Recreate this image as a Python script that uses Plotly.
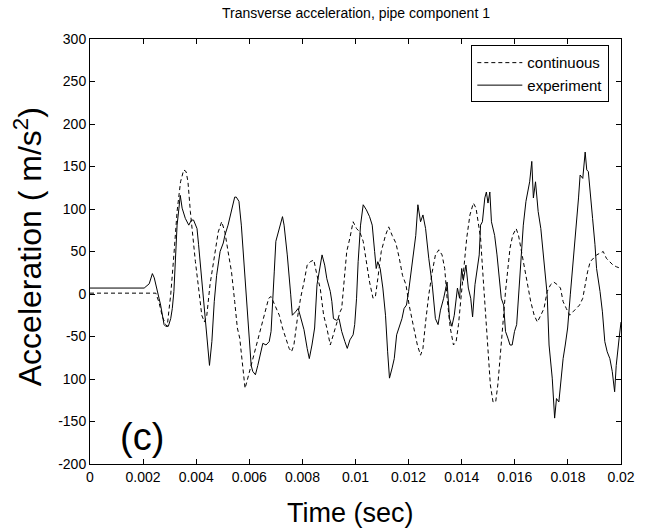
import plotly.graph_objects as go

# ---- data (time in ms, acceleration in m/s^2) ----
t_exp_ms = [0, 2.04, 2.23, 2.35, 2.42, 2.48, 2.54, 2.6, 2.66, 2.73, 2.79, 2.85, 2.95, 3.04, 3.1, 3.16, 3.22, 3.28, 3.35, 3.4,
            3.47, 3.59, 3.72, 3.82, 3.9, 4.03, 4.09, 4.21, 4.34, 4.44, 4.5, 4.59, 4.68, 4.77, 4.9, 5.02, 5.08, 5.2, 5.33, 5.45,
            5.51, 5.61, 5.7, 5.82, 5.95, 6.07, 6.13, 6.23, 6.32, 6.44, 6.51, 6.63, 6.75, 6.82, 6.88, 6.94, 7.0, 7.13, 7.25, 7.31,
            7.43, 7.56, 7.62, 7.74, 7.84, 7.93, 8.06, 8.18, 8.26, 8.36, 8.46, 8.55, 8.64, 8.74, 8.84, 8.92, 9.05, 9.11, 9.17, 9.29,
            9.38, 9.48, 9.6, 9.69, 9.79, 9.91, 9.97, 10.04, 10.1, 10.19, 10.29, 10.41, 10.53, 10.63, 10.72, 10.78, 10.84, 10.93,
            11.03, 11.13, 11.21, 11.28, 11.38, 11.46, 11.55, 11.65, 11.75, 11.83, 11.92, 12.0, 12.08, 12.17, 12.27, 12.35, 12.45,
            12.54, 12.64, 12.76, 12.89, 13.01, 13.11, 13.2, 13.32, 13.45, 13.54, 13.63, 13.72, 13.84, 13.92, 14.0, 14.06, 14.16,
            14.25, 14.34, 14.41, 14.5, 14.59, 14.66, 14.71, 14.78, 14.87, 14.93, 14.99, 15.06, 15.12, 15.24, 15.33, 15.4, 15.49,
            15.58, 15.65, 15.74, 15.82, 15.9, 15.99, 16.07, 16.14, 16.23, 16.32, 16.42, 16.52, 16.56, 16.64, 16.7, 16.78, 16.88,
            16.98, 17.07, 17.16, 17.22, 17.29, 17.41, 17.5, 17.57, 17.66, 17.74, 17.82, 17.9, 17.99, 18.09, 18.19, 18.28, 18.34,
            18.4, 18.46, 18.56, 18.65, 18.71, 18.77, 18.84, 18.93, 19.02, 19.08, 19.21, 19.3, 19.39, 19.48, 19.58, 19.67, 19.76,
            19.82, 19.93, 20.0]
a_exp = [7, 7, 12, 24, 19, 12, 3, -5, -13, -25, -36, -38, -38, -29, -17, 3, 42, 81, 101, 116,
         101, 89, 81, 87, 87, 77, 58, 18, -29, -60, -84, -56, -9, 22, 50, 60, 69, 81, 97, 114,
         114, 109, 81, 30, -21, -84, -91, -95, -84, -68, -58, -60, -56, -44, -1, 26, 62, 77, 91, 81,
         46, -1, -25, -21, -17, -27, -42, -64, -76, -60, -40, 11, 30, 46, 34, 18, 3, -9, -29, -31,
         -29, -44, -56, -64, -54, -48, -36, -5, 38, 81, 105, 99, 91, 81, 50, 30, 38, 30,
         7, -25, -68, -99, -87, -76, -48, -38, -29, -17, -13, 3, 22, 50, 69, 105, 85,
         93, 77, 42, 11, -29, -36, -19, -5, 14, -29, -38, -25, 7, -5, 30, 16, 34,
         7, -5, -27, 11, 30, 46, 81, 85, 113, 120, 107, 120, 85, 69, 46, 26, -5,
         -13, -44, -52, -60, -60, -44, -36, -5, 42, 81, 109, 128, 132, 156, 113, 132, 97,
         77, 46, 18, -1, -60, -99, -146, -123, -127, -99, -76, -60, -40, -1, 34, 66, 93,
         113, 140, 136, 167, 146, 144, 116, 89, 58, 30, 3, -21, -56, -68, -76, -91, -115,
         -84, -52, -33]

t_cont_ms = [0, 2.3, 2.48, 2.6, 2.73, 2.85, 2.91, 2.97, 3.04, 3.16, 3.28, 3.41, 3.53, 3.62, 3.69, 3.78, 3.87, 3.97, 4.09,
             4.21, 4.31, 4.4, 4.52, 4.68, 4.83, 4.96, 5.08, 5.2, 5.33, 5.45, 5.55, 5.64, 5.76, 5.84, 5.91, 6.01, 6.13, 6.26,
             6.38, 6.51, 6.63, 6.73, 6.82, 6.9, 7.0, 7.13, 7.25, 7.37, 7.5, 7.59, 7.68, 7.81, 7.93, 8.06, 8.18, 8.3, 8.43,
             8.55, 8.67, 8.8, 8.92, 9.05, 9.17, 9.29, 9.42, 9.48, 9.57, 9.67, 9.79, 9.91, 10.04, 10.16, 10.29, 10.41, 10.53,
             10.66, 10.75, 10.84, 10.97, 11.13, 11.25, 11.38, 11.52, 11.65, 11.77, 11.9, 12.02, 12.17, 12.33, 12.45, 12.54,
             12.64, 12.76, 12.89, 13.01, 13.14, 13.26, 13.36, 13.45, 13.57, 13.69, 13.79, 13.88, 13.96, 14.06, 14.19, 14.31,
             14.44, 14.54, 14.62, 14.71, 14.81, 14.91, 14.99, 15.08, 15.18, 15.28, 15.36, 15.45, 15.55, 15.65, 15.74, 15.82,
             15.92, 16.05, 16.14, 16.23, 16.36, 16.48, 16.6, 16.73, 16.85, 16.98, 17.1, 17.22, 17.35, 17.47, 17.6, 17.72,
             17.82, 17.94, 18.07, 18.19, 18.31, 18.44, 18.56, 18.65, 18.74, 18.84, 18.96, 19.08, 19.21, 19.33, 19.45, 19.58,
             19.7, 19.83, 20.0]
a_cont = [1, 1, 1, -10, -27, -36, -38, -20, -1, 46, 97, 132, 146, 144, 132, 97, 66, 38, 7,
          -25, -33, -25, 11, 42, 73, 85, 73, 50, 26, -9, -40, -52, -91, -111, -103, -91, -76, -60,
          -44, -29, -17, -5, -3, -9, -17, -25, -40, -52, -64, -68, -60, -29, -5, 14, 34, 38, 40,
          22, 7, -25, -40, -60, -48, -33, -21, -17, 18, 50, 66, 85, 77, 73, 62, 38, 14,
          -5, -3, 18, 50, 69, 79, 69, 60, 42, 22, 11, -13, -36, -60, -72, -64,
          -33, -1, 26, 46, 52, 46, 30, -5, -40, -60, -56, -36, -9, 26, 66, 93,
          107, 101, 85, 66, 18, -33, -72, -107, -127, -127, -107, -76, -36, 3, 34, 54,
          69, 77, 69, 54, 34, 14, -9, -25, -33, -25, -17, 3, 11, 14, 11, 7,
          -9, -17, -25, -21, -17, -13, -5, 11, 26, 38, 42, 46, 48, 50, 42, 38,
          34, 32, 30]

x_tickvals = [0, 0.002, 0.004, 0.006, 0.008, 0.01, 0.012, 0.014, 0.016, 0.018, 0.02]
x_ticktext = ["0", "0.002", "0.004", "0.006", "0.008", "0.01", "0.012", "0.014", "0.016", "0.018", "0.02"]
y_tickvals = [-200, -150, -100, -50, 0, 50, 100, 150, 200, 250, 300]
y_ticktext = ["-200", "-150", "100", "-50", "0", "50", "100", "150", "200", "250", "300"]

FONT = "Liberation Sans, Arial, Helvetica, sans-serif"

fig = go.Figure()
fig.add_trace(go.Scatter(x=[t / 1000 for t in t_cont_ms], y=a_cont, mode="lines", name="continuous",
                         line=dict(color="black", width=1, dash="4px,3px")))
fig.add_trace(go.Scatter(x=[t / 1000 for t in t_exp_ms], y=a_exp, mode="lines", name="experiment",
                         line=dict(color="black", width=1)))

axis_common = dict(showline=True, linecolor="black", linewidth=1, mirror="ticks", ticks="inside",
                   ticklen=5, tickcolor="black", showgrid=False, zeroline=False,
                   tickfont=dict(family=FONT, size=14, color="black"))

fig.update_xaxes(range=[0, 0.02], tickmode="array", tickvals=x_tickvals, ticktext=x_ticktext, **axis_common)
fig.update_yaxes(range=[-200, 300], tickmode="array", tickvals=y_tickvals, ticktext=y_ticktext, **axis_common)

fig.update_layout(
    width=647, height=532,
    margin=dict(l=90, r=19, t=39, b=68),
    paper_bgcolor="white", plot_bgcolor="white",
    font=dict(family=FONT, color="black"),
    showlegend=True,
    legend=dict(x=0.978, y=0.985, xanchor="right", yanchor="top",
                bgcolor="white", bordercolor="black", borderwidth=1,
                font=dict(family=FONT, size=15, color="black"),
                tracegroupgap=0, itemwidth=45),
    annotations=[
        dict(text="Transverse acceleration, pipe component 1", xref="paper", yref="paper",
             x=0.5, y=1.0, yshift=26, xanchor="center", yanchor="middle", showarrow=False,
             font=dict(family=FONT, size=14, color="black")),
        dict(text="Time (sec)", xref="paper", yref="paper", x=0.49, y=0, yshift=-49,
             xanchor="center", yanchor="middle", showarrow=False,
             font=dict(family=FONT, size=27, color="black")),
        dict(text="Acceleration ( m/s<sup>2</sup>)", xref="paper", yref="paper", x=0, xshift=-62, y=0.51,
             textangle=-90, xanchor="center", yanchor="middle", showarrow=False,
             font=dict(family=FONT, size=32, color="black")),
        dict(text="(c)", xref="paper", yref="paper", x=0.097, y=0.064,
             xanchor="center", yanchor="middle", showarrow=False,
             font=dict(family=FONT, size=38, color="black")),
    ],
)

fig.write_html("out.html", config={"displayModeBar": False},
               post_script="document.body.style.margin='0px';")
